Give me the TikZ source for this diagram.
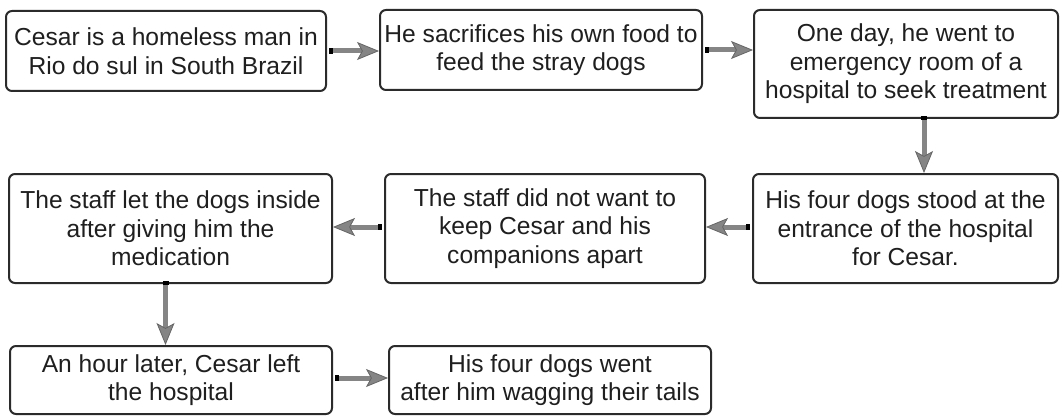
\documentclass[tikz,border=0pt]{standalone}
\usepackage{fontspec}
\setmainfont{Liberation Sans}
\usetikzlibrary{arrows.meta}
\definecolor{edge}{HTML}{2B2B2B}
\definecolor{arrgray}{HTML}{858585}
\tikzset{
  box/.style={draw=edge, line width=2pt, rounded corners=6pt, fill=white,
    align=center, inner sep=0pt, font=\fontsize{24.6}{28.5}\selectfont, text=black!88},
  flow/.style={draw=arrgray, line width=5pt,
    {Square[black, length=4pt, width=6pt]}-{Stealth[length=22pt, width=18pt, inset=5pt, fill=arrgray, color=black!60, line width=0.8pt]}},
}
\begin{document}
\begin{tikzpicture}[x=1pt, y=-1pt]
\useasboundingbox (0,0) rectangle (1063,417);
\node[box, minimum width=320pt, minimum height=80pt] (b1) at (166,51)
  {Cesar is a homeless man in\\Rio do sul in South Brazil};
\node[box, minimum width=322pt, minimum height=80pt] (b2) at (541,50)
  {He sacrifices his own food to\\feed the stray dogs};
\node[box, minimum width=304pt, minimum height=108pt] (b3) at (906,64)
  {One day, he went to\\emergency room of a\\hospital to seek treatment};
\node[box, minimum width=305pt, minimum height=109pt] (b6) at (905.5,228.5)
  {His four dogs stood at the\\entrance of the hospital\\for Cesar.};
\node[box, minimum width=320pt, minimum height=109pt] (b5) at (545,228.5)
  {The staff did not want to\\keep Cesar and his\\companions apart};
\node[box, minimum width=323pt, minimum height=109pt] (b4) at (170.5,228.5)
  {The staff let the dogs inside\\after giving him the\\medication};
\node[box, minimum width=322pt, minimum height=68pt] (b7) at (171,380)
  {An hour later, Cesar left\\the hospital};
\node[box, minimum width=322pt, minimum height=68pt] (b8) at (550,380)
  {His four dogs went\\after him wagging their tails};
\coordinate (d1) at ([xshift=18pt]b3.south);
\coordinate (d2) at ([xshift=-5pt]b4.south);
\coordinate (h7) at ([yshift=2pt]b7.east);
\draw[flow] ([xshift=2pt]b1.east) -- (b2.west |- b1.east);
\draw[flow] ([xshift=2pt]b2.east) -- (b3.west |- b2.east);
\draw[flow] ([yshift=3pt]d1) -- (d1 |- b6.north);
\draw[flow] ([xshift=-2pt,yshift=1.5pt]b6.west) -- ([yshift=1.5pt]b5.east);
\draw[flow] ([xshift=-2pt,yshift=1.5pt]b5.west) -- ([yshift=1.5pt]b4.east);
\draw[flow] ([yshift=3pt]d2) -- (d2 |- b7.north);
\draw[flow] ([xshift=2pt]h7) -- (b8.west |- h7);
\end{tikzpicture}
\end{document}
